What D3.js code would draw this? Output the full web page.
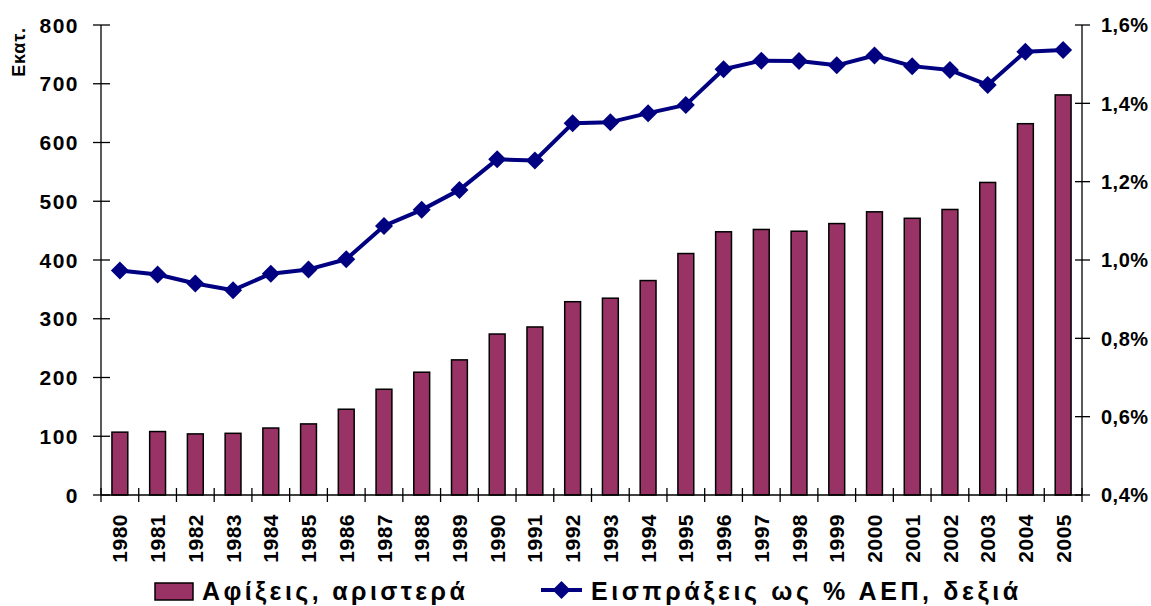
<!DOCTYPE html>
<html><head><meta charset="utf-8">
<script src="https://cdn.jsdelivr.net/npm/d3@7"></script>
<style>body{margin:0;background:#fff}svg{display:block}text{font-family:"Liberation Sans",Arial,sans-serif;font-weight:bold;fill:#000}</style>
</head><body>
<script>
const years = ["1980","1981","1982","1983","1984","1985","1986","1987","1988","1989","1990","1991","1992","1993","1994","1995","1996","1997","1998","1999","2000","2001","2002","2003","2004","2005"];
const arrivals = [107,108,104,105,114,121,146,180,209,230,274,286,329,335,365,411,448,452,449,462,482,471,486,532,632,681];
const receiptsPct = [0.973,0.963,0.940,0.923,0.965,0.976,1.002,1.087,1.128,1.179,1.257,1.254,1.349,1.352,1.375,1.396,1.487,1.509,1.508,1.497,1.522,1.495,1.485,1.447,1.532,1.536];
const leftTicks = [0,100,200,300,400,500,600,700,800];
const rightTicks = [0.4,0.6,0.8,1.0,1.2,1.4,1.6];
const legendLabels = ["Αφίξεις, αριστερά","Εισπράξεις ως % ΑΕΠ, δεξιά"];
const yUnit = "Εκατ.";

const W=1151,H=606, L=101, R=1082, T=25, B=495;
const svg=d3.select("body").append("svg").attr("width",W).attr("height",H);
const x=d3.scaleBand().domain(years).range([L,R]).paddingInner(0).paddingOuter(0);
const yL=d3.scaleLinear().domain([0,800]).range([B,T]);
const yR=d3.scaleLinear().domain([0.4,1.6]).range([B,T]);
const barW=x.bandwidth()*0.42;
const barColor="#993366", lineColor="#000080";

// bars
svg.append("g").selectAll("rect").data(years).join("rect")
  .attr("x",d=>x(d)+x.bandwidth()/2-barW/2)
  .attr("y",(d,i)=>yL(arrivals[i]))
  .attr("width",barW)
  .attr("height",(d,i)=>B-yL(arrivals[i]))
  .attr("fill",barColor).attr("stroke","#000").attr("stroke-width",1.5);

// axes lines
const ax=svg.append("g").attr("stroke","#000").attr("stroke-width",1.3);
ax.append("line").attr("x1",L).attr("x2",L).attr("y1",T).attr("y2",B);
ax.append("line").attr("x1",R).attr("x2",R).attr("y1",T).attr("y2",B);
ax.append("line").attr("x1",L).attr("x2",R).attr("y1",B).attr("y2",B);
ax.selectAll(".lt").data(leftTicks).join("line").attr("x1",L-8).attr("x2",L+9).attr("y1",d=>yL(d)).attr("y2",d=>yL(d));
ax.selectAll(".rt").data(rightTicks).join("line").attr("x1",R-7).attr("x2",R+8).attr("y1",d=>yR(d)).attr("y2",d=>yR(d));
const bounds=years.map(d=>x(d)).concat([R]);
ax.selectAll(".xt").data(bounds).join("line").attr("x1",d=>d).attr("x2",d=>d).attr("y1",B-7).attr("y2",B+7);

// left labels
svg.append("g").selectAll("text").data(leftTicks).join("text")
  .attr("x",79).attr("y",d=>yL(d)).attr("dy","0.36em").attr("text-anchor","end")
  .style("font-size","21px").style("letter-spacing","1.5px").text(d=>d);
// right labels
svg.append("g").selectAll("text").data(rightTicks).join("text")
  .attr("x",1101).attr("y",d=>yR(d)).attr("dy","0.36em").attr("text-anchor","start")
  .style("font-size","20px").style("letter-spacing","0.5px").text(d=>d.toFixed(1).replace(".",",")+"%");
// year labels
svg.append("g").selectAll("text").data(years).join("text")
  .attr("transform",d=>`translate(${x(d)+x.bandwidth()/2},514) rotate(-90)`)
  .attr("dy","0.36em").attr("text-anchor","end")
  .style("font-size","21px").style("letter-spacing","0.5px").text(d=>d);
// unit label
svg.append("text").attr("transform","translate(19,52) rotate(-90)").attr("dy","0.36em")
  .attr("text-anchor","middle").style("font-size","18px").style("letter-spacing","0.8px").text(yUnit);

// line
const line=d3.line().x((d,i)=>x(years[i])+x.bandwidth()/2).y(d=>yR(d));
svg.append("path").datum(receiptsPct).attr("d",line).attr("fill","none")
  .attr("stroke",lineColor).attr("stroke-width",4).attr("stroke-linejoin","round");
const dpath="M0,-9L9,0L0,9L-9,0Z";
svg.append("g").selectAll("path").data(receiptsPct).join("path")
  .attr("transform",(d,i)=>`translate(${x(years[i])+x.bandwidth()/2},${yR(d)})`)
  .attr("d",dpath).attr("fill",lineColor);

// legend
const lg=svg.append("g");
lg.append("rect").attr("x",155).attr("y",583).attr("width",38).attr("height",17)
  .attr("fill",barColor).attr("stroke","#000").attr("stroke-width",1.5);
lg.append("text").attr("x",202).attr("y",600).style("font-size","25px").style("letter-spacing","3.4px").text(legendLabels[0]);
lg.append("line").attr("x1",541).attr("x2",582).attr("y1",590).attr("y2",590).attr("stroke",lineColor).attr("stroke-width",4);
lg.append("path").attr("transform","translate(561.5,590)").attr("d",dpath).attr("fill",lineColor);
lg.append("text").attr("x",591).attr("y",600).style("font-size","25px").style("letter-spacing","3.6px").text(legendLabels[1]);
</script>
</body></html>
